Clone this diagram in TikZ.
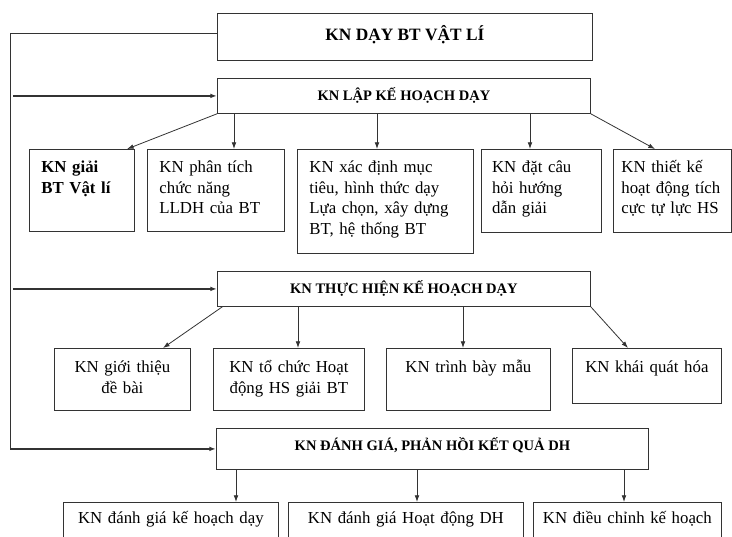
\documentclass[tikz,border=0pt]{standalone}
\usepackage{fontspec}
\setmainfont{Liberation Serif}
\usetikzlibrary{arrows.meta}

\newcommand{\bodyfont}{\fontsize{12.6}{15.7}\selectfont}
\newcommand{\headfont}{\fontsize{10.9}{12}\selectfont\bfseries}
\newcommand{\titlefont}{\fontsize{13}{15}\selectfont\bfseries}

\tikzset{
    box/.style={draw=black!80, line width=0.6pt, anchor=north west, inner sep=0pt},
    head/.style={box, font=\headfont, align=center},
    skill/.style={box, font=\bodyfont, align=left, inner xsep=9pt, text height=17pt},
    task/.style={box, font=\bodyfont, align=center, inner xsep=3pt},
    link/.style={draw=black!80, line width=0.6pt, -{Latex[length=5pt,width=3.5pt]}},
    heavy/.style={link, line width=1.4pt},
    feedline/.style={draw=black!80, line width=0.6pt}
}

\begin{document}
\begin{tikzpicture}[x=0.75pt, y=-0.75pt]
    \useasboundingbox (0,0) rectangle (732,536);
    \clip (0,0) rectangle (732,536);

    % main blocks
    \node[head, font=\titlefont, text depth=6pt, minimum width=281.25pt, minimum height=35.25pt] (teach) at (217,13) {KN DẠY BT VẬT LÍ};
    \node[head, minimum width=279.75pt, minimum height=26.25pt] (plan) at (217,78) {KN LẬP KẾ HOẠCH DẠY};
    \node[head, minimum width=279.75pt, minimum height=26.25pt] (exec) at (217,271) {KN THỰC HIỆN KẾ HOẠCH DẠY};
    \node[head, text depth=7pt, minimum width=324pt, minimum height=30.75pt] (eval) at (216,428) {KN ĐÁNH GIÁ, PHẢN HỒI KẾT QUẢ DH};

    % planning skills
    \node[skill, font=\bodyfont\bfseries, text width=60.75pt, text depth=44.5pt] (solve) at (29,149) {KN giải\\BT Vật lí};
    \node[skill, text width=84.75pt, text depth=44.5pt] (func) at (147,149) {KN phân tích\\chức năng\\LLDH của BT};
    \node[skill, text width=114pt, text depth=61pt] (goal) at (297,149) {KN xác định mục\\tiêu, hình thức dạy\\Lựa chọn, xây dựng\\BT, hệ thống BT};
    \node[skill, inner xsep=8pt, text width=74pt, text depth=45.25pt] (ask) at (481,149) {KN đặt câu\\hỏi hướng\\dẫn giải};
    \node[skill, inner xsep=6pt, text width=76.5pt, text depth=45.25pt] (design) at (613,149) {KN thiết kế\\hoạt động tích\\cực tự lực HS};

    % teaching skills
    \node[task, text height=18pt, text width=96pt, text depth=28.5pt] (intro) at (54,348) {KN giới thiệu\\đề bài};
    \node[task, text height=18pt, text width=107.25pt, text depth=28.5pt] (org) at (213,348) {KN tổ chức Hoạt\\động HS giải BT};
    \node[task, text height=18pt, text width=117pt, text depth=28.5pt] (demo) at (386,348) {KN trình bày mẫu};
    \node[task, text height=18pt, text width=105.75pt, text depth=23.25pt] (gen) at (572,348) {KN khái quát hóa};

    % evaluation skills
    \node[task, text height=16pt, text width=155.25pt, text depth=17.75pt] (evplan) at (63,502) {KN đánh giá kế hoạch dạy};
    \node[task, text height=16pt, text width=170.25pt, text depth=17.75pt] (evact) at (288,502) {KN đánh giá Hoạt động DH};
    \node[task, text height=16pt, text width=135pt, text depth=17.75pt] (adjust) at (533,502) {KN điều chỉnh kế hoạch};

    % feedback rail
    \coordinate (rail) at (10,0);
    \coordinate (gap) at (13,0);
    \draw[feedline] ([yshift=2.6pt]teach.west) -| (rail |- eval.west);
    \draw[heavy] (rail |- eval.west) -- (eval.west);
    \draw[heavy] (gap |- plan.west) -- (plan.west);
    \draw[heavy] (gap |- exec.west) -- (exec.west);

    % drops
    \coordinate (xA) at (127,0);
    \coordinate (xB) at (234,0);
    \coordinate (xC) at (377,0);
    \coordinate (xD) at (530,0);
    \coordinate (xE) at (655,0);
    \draw[link] (plan.south west) -- (xA |- solve.north);
    \draw[link] (xB |- plan.south) -- (xB |- func.north);
    \draw[link] (xC |- plan.south) -- (xC |- goal.north);
    \draw[link] (xD |- plan.south) -- (xD |- ask.north);
    \draw[link] (plan.south east) -- (xE |- design.north);

    \coordinate (xG) at (163,0);
    \coordinate (xH) at (298,0);
    \coordinate (xI) at (463,0);
    \coordinate (xJ) at (628,0);
    \draw[link] ([xshift=4pt]exec.south west) -- (xG |- intro.north);
    \draw[link] (xH |- exec.south) -- (xH |- org.north);
    \draw[link] (xI |- exec.south) -- (xI |- demo.north);
    \draw[link] (exec.south east) -- (xJ |- gen.north);

    \coordinate (xK) at (236,0);
    \coordinate (xL) at (417,0);
    \coordinate (xM) at (624,0);
    \draw[link] (xK |- eval.south) -- (xK |- evplan.north);
    \draw[link] (xL |- eval.south) -- (xL |- evact.north);
    \draw[link] (xM |- eval.south) -- (xM |- adjust.north);
\end{tikzpicture}
\end{document}
